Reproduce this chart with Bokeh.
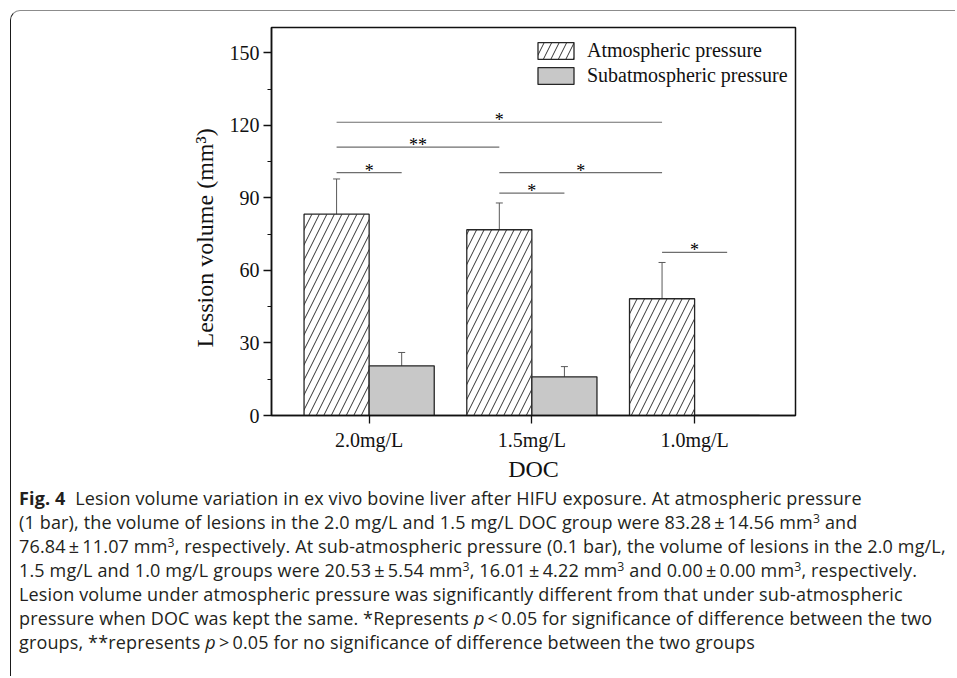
from bokeh.plotting import figure
from bokeh.models import (Range1d, SingleIntervalTicker, FixedTicker, Whisker,
                          TeeHead, ColumnDataSource, Div, Title)
from bokeh.layouts import column
from bokeh.embed import file_html
from bokeh.resources import INLINE
from bokeh.core.properties import value

# ---------------- data ----------------
groups = ["2.0mg/L", "1.5mg/L", "1.0mg/L"]
atm_mean = [83.28, 76.84, 48.3]
atm_err = [14.56, 11.07, 15.0]
sub_mean = [20.53, 16.01, 0.00]
sub_err = [5.54, 4.22, 0.00]
series_names = ["Atmospheric pressure", "Subatmospheric pressure"]
y_ticks = [0, 30, 60, 90, 120, 150]
y_title = "Lession volume (mm³)"
x_title = "DOC"

# significance brackets: from (group, series) to (group, series) at level
sig_a_group = [0, 0, 0, 1, 1, 2]
sig_a_series = ["atm", "atm", "atm", "atm", "atm", "atm"]
sig_b_group = [0, 1, 2, 1, 2, 2]
sig_b_series = ["sub", "atm", "atm", "sub", "atm", "sub"]
sig_level = [100.5, 111.0, 121.3, 92.0, 100.5, 67.5]
sig_mark = ["*", "**", "*", "*", "*", "*"]

# ---------------- layout constants ----------------
SERIF = "Liberation Serif"
OFF = {"atm": -0.2, "sub": 0.2}
BAR_W = 0.4
xs = [i + 1 for i in range(len(groups))]

p = figure(width=944, height=475, x_range=Range1d(0.4, 3.62),
           y_range=Range1d(0, 160.5), output_backend="svg",
           toolbar_location=None, min_border_left=260, min_border_right=160,
           min_border_top=16, min_border_bottom=71)
p.grid.visible = False
p.outline_line_color = "#111111"
p.outline_line_width = 1.5
p.background_fill_color = "white"
p.border_fill_alpha = 0

atm_src = ColumnDataSource(dict(x=[x + OFF["atm"] for x in xs], top=atm_mean,
                                lo=[m - e for m, e in zip(atm_mean, atm_err)],
                                hi=[m + e for m, e in zip(atm_mean, atm_err)]))
sub_src = ColumnDataSource(dict(x=[x + OFF["sub"] for x in xs], top=sub_mean,
                                lo=[m - e for m, e in zip(sub_mean, sub_err)],
                                hi=[m + e for m, e in zip(sub_mean, sub_err)]))

p.vbar(x="x", top="top", width=BAR_W, source=atm_src, fill_color="white",
       hatch_pattern="/", hatch_scale=15, hatch_weight=1, hatch_color="#333333",
       line_color="#262626", line_width=1.3, legend_label=series_names[0])
p.vbar(x="x", top="top", width=BAR_W, source=sub_src, fill_color="#c8c8c8",
       line_color="#262626", line_width=1.3, legend_label=series_names[1])

# error bars (only where there is a spread)
for src, err in ((atm_src, atm_err), (sub_src, sub_err)):
    keep = [i for i, e in enumerate(err) if e > 0]
    d = {k: [src.data[k][i] for i in keep] for k in ("x", "lo", "hi")}
    w = Whisker(source=ColumnDataSource(d), base="x", lower="lo", upper="hi",
                line_color="#5a5a5a", line_width=1,
                lower_head=TeeHead(size=7, line_color="#5a5a5a", line_width=1),
                upper_head=TeeHead(size=7, line_color="#5a5a5a", line_width=1))
    p.add_layout(w)

# significance lines and stars
sx0 = [sig_a_group[i] + 1 + OFF[sig_a_series[i]] for i in range(len(sig_level))]
sx1 = [sig_b_group[i] + 1 + OFF[sig_b_series[i]] for i in range(len(sig_level))]
p.segment(x0=sx0, x1=sx1, y0=sig_level, y1=sig_level, line_color="#6e6e6e",
          line_width=1.2)
p.text(x=[(a + b) / 2 for a, b in zip(sx0, sx1)], y=sig_level, text=sig_mark,
       text_font=value(SERIF), text_font_size="18px", text_align="center",
       text_baseline="alphabetic", y_offset=-2, text_color="#000000")

# axes
p.yaxis.ticker = SingleIntervalTicker(interval=30, num_minor_ticks=2)
p.xaxis.ticker = FixedTicker(ticks=xs)
p.xaxis.major_label_overrides = {x: g for x, g in zip(xs, groups)}
for ax in (p.xaxis[0], p.yaxis[0]):
    ax.axis_line_color = "#111111"
    ax.axis_line_width = 1.5
    ax.major_tick_line_color = "#111111"
    ax.major_tick_line_width = 1.3
    ax.minor_tick_line_color = "#111111"
    ax.minor_tick_line_width = 1.2
    ax.major_tick_out = 8
    ax.major_tick_in = 0
    ax.minor_tick_out = 4
    ax.minor_tick_in = 0
    ax.major_label_text_font = SERIF
    ax.major_label_text_font_size = "20px"
    ax.major_label_text_color = "#111111"
    ax.axis_label_text_font = SERIF
    ax.axis_label_text_font_style = "normal"
    ax.axis_label_text_color = "#111111"
p.xaxis.minor_tick_out = 0
p.xaxis.major_label_standoff = 5
p.yaxis.major_label_standoff = 4
p.xaxis.axis_label = x_title
p.xaxis.axis_label_text_font_size = "24px"
p.xaxis.axis_label_standoff = 2

# y title as a side title, starting a little above the frame bottom
p.add_layout(Title(text=y_title, align="left", offset=68, standoff=18,
                   text_font=SERIF, text_font_size="24px",
                   text_font_style="normal", text_color="#111111"), "left")

# legend
lg = p.legend[0]
lg.location = (262, 328)
lg.margin = 0
lg.padding = 0
lg.spacing = 2
lg.border_line_color = None
lg.background_fill_alpha = 0
lg.glyph_width = 45
lg.glyph_height = 21
lg.label_height = 21
lg.label_standoff = 9
lg.label_text_font = SERIF
lg.label_text_font_size = "20px"
lg.label_text_color = "#111111"

# caption built from the data
SUP = "<sup style='font-size:0.68em;line-height:0;vertical-align:0;position:relative;top:-0.5em'>3</sup>"


def pm(m, e):
    return f"{m:.2f}&thinsp;±&thinsp;{e:.2f}&nbsp;mm{SUP}"


lines = [
    "<b>Fig. 4</b>&nbsp; Lesion volume variation in ex vivo bovine liver after HIFU exposure. At atmospheric pressure",
    f"(1 bar), the volume of lesions in the 2.0 mg/L and 1.5 mg/L DOC group were {pm(atm_mean[0], atm_err[0])} and",
    f"{pm(atm_mean[1], atm_err[1])}, respectively. At sub-atmospheric pressure (0.1 bar), the volume of lesions in the 2.0 mg/L,",
    f"1.5 mg/L and 1.0 mg/L groups were {pm(sub_mean[0], sub_err[0])}, {pm(sub_mean[1], sub_err[1])} and {pm(sub_mean[2], sub_err[2])}, respectively.",
    "Lesion volume under atmospheric pressure was significantly different from that under sub-atmospheric",
    "pressure when DOC was kept the same. *Represents <i>p</i>&thinsp;&lt;&thinsp;0.05 for significance of difference between the two",
    "groups, **represents <i>p</i>&thinsp;&gt;&thinsp;0.05 for no significance of difference between the two groups",
]
html = ("<div style=\"font-family:'Open Sans','Noto Sans',sans-serif;font-size:18px;"
        "line-height:24px;white-space:nowrap;color:#231f20;letter-spacing:0.15px;\">"
        + "<br>".join(lines) + "</div>")
cap = Div(text=html, width=930, height=190, margin=(0, 0, 0, 8))

layout = column(p, cap, margin=(10, 0, 0, 10),
                styles={"border-top": "1.5px solid #8c8c8c",
                        "border-left": "1.5px solid #1a1a1a",
                        "border-top-left-radius": "10px"})

open("out.html", "w").write(file_html(layout, INLINE))
